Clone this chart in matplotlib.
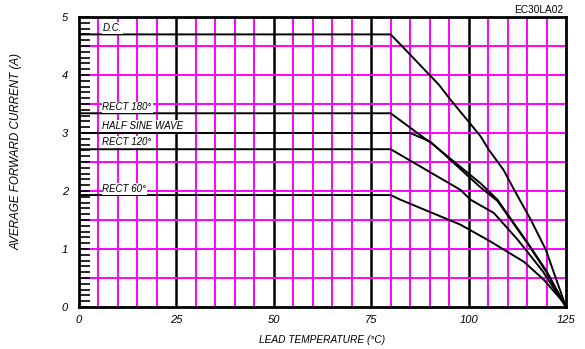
import matplotlib
matplotlib.use("Agg")
import matplotlib.pyplot as plt
from matplotlib.ticker import MultipleLocator
import numpy as np

# ---- data ----
dc_t = [0, 80, 84.3, 92.4, 95.4, 99.7, 103.1, 105.2, 109.0, 111.7, 116.0, 119.8, 125]
dc_i = [4.70, 4.70, 4.40, 3.83, 3.57, 3.22, 2.94, 2.71, 2.36, 2.02, 1.50, 0.99, 0.0]

r180_t = [0, 80, 91.1, 103.1, 107.4, 115.1, 120.0, 125]
r180_i = [3.34, 3.34, 2.79, 2.13, 1.85, 1.11, 0.62, 0.0]

hs_t = [0, 85, 90.2, 103.1, 107.4, 115.1, 120.0, 125]
hs_i = [3.0, 3.0, 2.85, 2.06, 1.83, 1.10, 0.60, 0.0]

r120_t = [0, 80, 97.9, 100.5, 106.5, 112.6, 119.0, 125]
r120_i = [2.72, 2.72, 2.02, 1.85, 1.62, 1.16, 0.62, 0.0]

r60_t = [0, 80, 82.5, 97.9, 105.6, 109.0, 114.2, 119.3, 124.5, 125]
r60_i = [1.93, 1.93, 1.85, 1.42, 1.13, 0.99, 0.78, 0.47, 0.07, 0.0]

labels = ["D.C.", "RECT 180°", "HALF SINE WAVE", "RECT 120°", "RECT 60°"]
label_y = [4.81, 3.44, 3.12, 2.84, 2.03]
label_x = 6.0

x_ticks = [0, 25, 50, 75, 100, 125]
y_ticks = [0, 1, 2, 3, 4, 5]

xlabel = "LEAD TEMPERATURE (°C)"
ylabel = "AVERAGE FORWARD CURRENT (A)"
code = "EC30LA02"

# ---- figure ----
W, H = 585, 349
fig = plt.figure(figsize=(W / 100, H / 100), dpi=100)
L, R, T, B = 79, 566, 17, 307
ax = fig.add_axes([L / W, 1 - B / H, (R - L) / W, (B - T) / H])
ax.set_xlim(0, 125)
ax.set_ylim(0, 5)

MAG = "#ff00ff"
for x in np.arange(5, 125, 5):
    if x % 25 == 0:
        ax.axvline(x, color="black", lw=1.8, zorder=1)
    else:
        ax.axvline(x, color=MAG, lw=1.4, zorder=1)
for y in np.arange(0.5, 5.0, 0.5):
    ax.axhline(y, color=MAG, lw=1.4, zorder=1)

for t, i in [(dc_t, dc_i), (r180_t, r180_i), (hs_t, hs_i), (r120_t, r120_i), (r60_t, r60_i)]:
    ax.plot(t, i, color="black", lw=1.4, zorder=3, solid_joinstyle="round")

font_small = dict(family=["Liberation Sans Narrow", "Liberation Sans", "DejaVu Sans"], style="italic", size=7)
for txt, yy in zip(labels, label_y):
    ax.text(label_x, yy, txt, ha="left", va="center", zorder=4,
            bbox=dict(facecolor="white", edgecolor="none", pad=0.6), **font_small)

for s in ax.spines.values():
    s.set_linewidth(2.0)
    s.set_color("black")
    s.set_zorder(5)

ax.set_xticks(x_ticks)
ax.set_yticks(y_ticks)
ax.yaxis.set_minor_locator(MultipleLocator(0.1))
ax.tick_params(axis="y", which="both", direction="in", length=8, width=1.2, pad=8)
ax.tick_params(axis="x", which="both", length=0, pad=6)
ax.tick_params(axis="both", labelsize=8)
for lab in ax.get_xticklabels() + ax.get_yticklabels():
    lab.set_fontfamily("Liberation Sans")
    lab.set_fontstyle("italic")

fig.text((L + R) / 2 / W, 1 - 340 / H, xlabel, ha="center", va="center",
         family="Liberation Sans", style="italic", size=7.3)
fig.text(16.7 / W, 1 - 151 / H, ylabel, ha="center", va="center", rotation=90,
         family="Liberation Sans", style="italic", size=8.4)
fig.text(563 / W, 1 - 10 / H, code, ha="right", va="center",
         family="Liberation Sans", size=7.3)

fig.savefig("out.png", dpi=100)
